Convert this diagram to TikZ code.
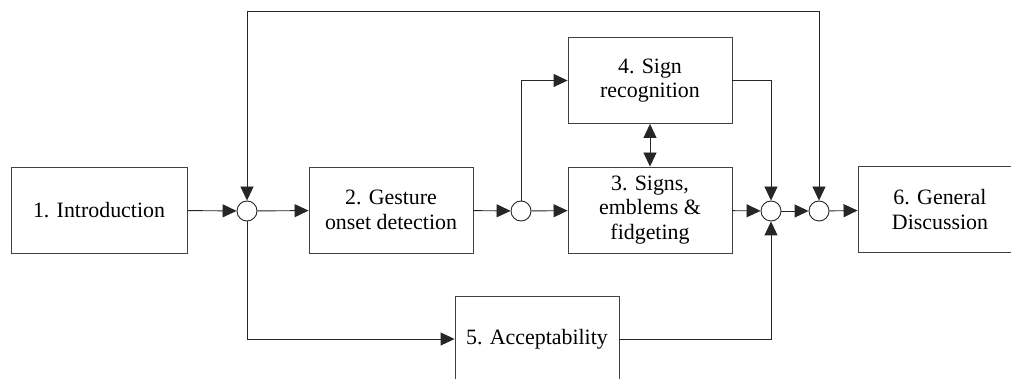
\documentclass[tikz,border=0pt]{standalone}
\usepackage{fontspec}
\setmainfont{LiberationSerif}[Extension=.ttf, UprightFont=*-Regular, BoldFont=*-Bold]
\usetikzlibrary{arrows.meta}
\begin{document}
\begin{tikzpicture}[x=1pt,y=-1pt,
  line width=0.9pt,
  stagebox/.style={draw=black!75, rectangle, inner sep=0pt, align=center,
    minimum width=164pt, minimum height=86pt,
    font=\rmfamily\fontsize{21.9}{24.5}\selectfont},
  junc/.style={draw=black!85, circle, fill=white, minimum size=20pt, inner sep=0pt},
  flow/.style={draw=black!85, -{Triangle[length=14pt,width=13pt]}},
  bothway/.style={draw=black!85, {Triangle[length=14pt,width=13pt]}-{Triangle[length=14pt,width=13pt]}}]
\useasboundingbox (0,0) rectangle (1011,379);
\fill[white] (0,0) rectangle (1011,379);

% stages
\node[stagebox, minimum width=176pt] (intro) at (99,210) {1. Introduction};
\node[stagebox] (onset) at (391,210) {2. Gesture\\onset detection};
\node[stagebox] (signs) at (650,210) {3. Signs,\\emblems \&\\fidgeting};
\node[stagebox] (recog) at (650,80.5) {4. Sign\\recognition};
\node[stagebox] (accept) at (537,339) {5. Acceptability};
\node[stagebox] (disc) at (940,209.5) {6. General\\Discussion};

% junctions
\node[junc] (j1) at (247,211) {};
\node[junc] (j2) at (521,211) {};
\node[junc] (j3) at (771,211) {};
\node[junc] (j4) at (819,211) {};

\coordinate (t1) at (247,11);
\coordinate (t2) at (819,11);

% main flow
\draw[flow] (intro) -- (j1);
\draw[flow] (j1) -- (onset);
\draw[flow] (onset) -- (j2);
\draw[flow] (j2) -- (signs);
\draw[flow] (signs) -- (j3);
\draw[flow] (j3) -- (j4);
\draw[flow] (j4) -- (disc);

% branches
\draw[flow] (t1) -- (j1);
\draw[flow] (t1) -- (t2) -- (j4);
\draw[flow] (j1) |- (accept);
\draw[flow] (accept) -| (j3);
\draw[flow] (j2) |- (recog);
\draw[flow] (recog) -| (j3);
\draw[bothway] (recog) -- (signs);
\end{tikzpicture}
\end{document}
